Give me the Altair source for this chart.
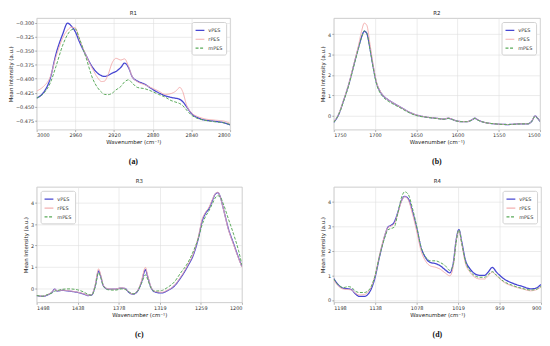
import altair as alt
import pandas as pd

SERIES = ["vPES", "rPES", "mPES"]
COLORS = ["#4646d2", "#f3b0b0", "#5aaa5a"]
DASHES = [[1, 0], [1, 0], [3, 1.6]]
WIDTHS = [1.3, 1.0, 1.0]

# ---------------- R1 ----------------
r1_wn = [3000, 2993, 2986, 2980, 2973, 2968, 2964, 2960, 2956, 2949, 2942, 2937, 2933,
         2930, 2926, 2922, 2918, 2913, 2909, 2905, 2901, 2896, 2888, 2881, 2874, 2867,
         2861, 2856, 2852, 2849, 2845, 2840, 2833, 2827, 2816, 2806, 2800]
r1_v = [-0.4345, -0.425, -0.400, -0.356, -0.320, -0.3005, -0.306, -0.316, -0.333, -0.358,
        -0.380, -0.390, -0.3945, -0.396, -0.394, -0.390, -0.387, -0.380, -0.372, -0.380,
        -0.397, -0.404, -0.410, -0.418, -0.425, -0.4305, -0.4335, -0.435, -0.437, -0.441,
        -0.450, -0.462, -0.470, -0.4735, -0.476, -0.479, -0.4825]
r1_r = [-0.422, -0.414, -0.397, -0.361, -0.327, -0.313, -0.308, -0.309, -0.328, -0.358,
        -0.383, -0.398, -0.405, -0.4045, -0.392, -0.372, -0.3635, -0.3665, -0.3645, -0.378,
        -0.397, -0.405, -0.411, -0.4165, -0.422, -0.428, -0.4265, -0.422, -0.4155, -0.423,
        -0.447, -0.461, -0.468, -0.4715, -0.474, -0.476, -0.480]
r1_m = [-0.4345, -0.4265, -0.408, -0.378, -0.340, -0.321, -0.3125, -0.311, -0.327, -0.362,
        -0.400, -0.416, -0.424, -0.428, -0.4285, -0.426, -0.420, -0.414, -0.4055, -0.402,
        -0.408, -0.4155, -0.418, -0.4225, -0.428, -0.433, -0.439, -0.442, -0.4445, -0.448,
        -0.456, -0.465, -0.4715, -0.474, -0.477, -0.479, -0.482]
r1_xticks = [3000, 2960, 2920, 2880, 2840, 2800]
r1_yticks = [-0.475, -0.45, -0.425, -0.4, -0.375, -0.35, -0.325, -0.3]

# ---------------- R2 ----------------
r2_wn = [1750, 1744, 1738, 1732, 1726, 1720, 1716, 1713, 1710, 1706, 1702, 1698, 1694,
         1690, 1684, 1678, 1668, 1658, 1648, 1638, 1626, 1616, 1611, 1606, 1602, 1594,
         1589, 1583, 1579, 1575, 1567, 1555, 1539, 1523, 1515, 1510, 1506, 1503, 1500]
r2_v = [-0.34, 0.05, 0.74, 1.5, 2.43, 3.35, 3.9, 4.15, 4.05, 3.28, 2.35, 1.58, 1.2,
        0.97, 0.77, 0.615, 0.385, 0.15, 0.0, -0.08, -0.14, -0.185, -0.14, -0.2, -0.26, -0.31,
        -0.31, -0.23, -0.14, -0.23, -0.35, -0.415, -0.45, -0.415, -0.415, -0.29, -0.03, -0.14, -0.29]
r2_r = [-0.32, 0.07, 0.76, 1.52, 2.47, 3.45, 4.2, 4.55, 4.45, 3.5, 2.45, 1.62, 1.22,
        0.98, 0.77, 0.615, 0.385, 0.15, 0.0, -0.08, -0.14, -0.185, -0.13, -0.2, -0.26, -0.31,
        -0.31, -0.23, -0.14, -0.23, -0.35, -0.415, -0.45, -0.415, -0.415, -0.29, -0.03, -0.14, -0.29]
r2_m = [-0.34, 0.04, 0.7, 1.45, 2.38, 3.3, 3.88, 4.17, 4.05, 3.25, 2.3, 1.52, 1.12,
        0.9, 0.7, 0.56, 0.34, 0.12, -0.03, -0.09, -0.15, -0.19, -0.15, -0.21, -0.27, -0.31,
        -0.31, -0.24, -0.15, -0.24, -0.35, -0.415, -0.45, -0.42, -0.415, -0.3, -0.05, -0.15, -0.3]
r2_xticks = [1750, 1700, 1650, 1600, 1550, 1500]
r2_yticks = [0, 1, 2, 3, 4]

# ---------------- R3 ----------------
r3_wn = [1498, 1489, 1482, 1475, 1472, 1468, 1461, 1451, 1439, 1430, 1423, 1418, 1413,
         1408, 1405, 1401, 1394, 1384, 1375, 1370, 1363, 1358, 1351, 1346, 1340, 1337,
         1332, 1327, 1317, 1308, 1298, 1289, 1279, 1270, 1263, 1258, 1253, 1248, 1243,
         1239, 1235, 1232, 1227, 1220, 1212, 1205, 1200]
r3_v = [-0.35, -0.39, -0.32, -0.17, -0.05, -0.14, -0.11, -0.14, -0.2, -0.27, -0.35, -0.32, 0.1,
        0.8, 0.56, 0.1, -0.05, -0.05, 0.0, -0.02, -0.23, -0.29, -0.12, 0.26, 0.86, 0.56,
        0.03, -0.17, -0.23, -0.12, 0.1, 0.48, 1.01, 1.6, 2.37, 3.12, 3.5, 3.73, 4.1,
        4.4, 4.48, 4.33, 3.73, 2.82, 2.07, 1.43, 1.01]
r3_r = [-0.35, -0.38, -0.31, -0.16, -0.06, -0.13, -0.1, -0.13, -0.19, -0.26, -0.34, -0.31, 0.15,
        0.9, 0.62, 0.12, -0.04, -0.05, 0.01, -0.02, -0.22, -0.28, -0.1, 0.32, 0.97, 0.62,
        0.05, -0.15, -0.2, -0.1, 0.13, 0.52, 1.06, 1.66, 2.45, 3.2, 3.55, 3.78, 4.15,
        4.42, 4.5, 4.33, 3.72, 2.78, 2.02, 1.4, 0.98]
r3_m = [-0.35, -0.38, -0.3, -0.22, -0.15, -0.12, -0.06, -0.04, -0.08, -0.18, -0.3, -0.33, 0.05,
        0.72, 0.5, 0.08, -0.08, -0.1, -0.04, -0.06, -0.2, -0.27, -0.12, 0.2, 0.62, 0.42,
        0.0, -0.14, -0.12, 0.03, 0.29, 0.71, 1.16, 1.77, 2.37, 2.95, 3.35, 3.62, 3.95,
        4.22, 4.33, 4.3, 3.95, 3.28, 2.52, 1.77, 1.09]
r3_xticks = [1498, 1438.4, 1378.8, 1319.2, 1259.6, 1200]
r3_yticks = [0, 1, 2, 3, 4]

# ---------------- R4 ----------------
r4_wn = [1198, 1191, 1184, 1177, 1172, 1168, 1161, 1154, 1146, 1139, 1132, 1125, 1120,
         1116, 1111, 1106, 1101, 1096, 1091, 1085, 1078, 1073, 1066, 1059, 1052, 1045,
         1038, 1031, 1026, 1022, 1018, 1014, 1009, 1002, 995, 988, 981, 976, 970, 964,
         954, 940, 926, 915, 908, 900]
r4_v = [0.87, 0.6, 0.47, 0.45, 0.41, 0.28, 0.14, 0.14, 0.34, 0.87, 1.78, 2.57, 2.96,
        3.03, 3.16, 3.55, 4.01, 4.21, 4.12, 3.62, 2.83, 2.18, 1.72, 1.52, 1.48, 1.39,
        1.23, 1.1, 1.52, 2.44, 2.86, 2.37, 1.65, 1.26, 1.06, 1.0, 1.0, 1.13, 1.32, 1.13,
        0.87, 0.67, 0.54, 0.45, 0.47, 0.63]
r4_r = [0.8, 0.55, 0.44, 0.42, 0.4, 0.3, 0.2, 0.22, 0.42, 0.95, 1.85, 2.6, 2.95,
        3.0, 3.1, 3.5, 3.98, 4.2, 4.08, 3.52, 2.7, 2.05, 1.58, 1.38, 1.33, 1.25,
        1.1, 0.98, 1.4, 2.38, 2.82, 2.28, 1.52, 1.12, 0.92, 0.85, 0.85, 0.97, 1.13, 0.98,
        0.73, 0.55, 0.44, 0.37, 0.4, 0.52]
r4_m = [0.85, 0.6, 0.5, 0.54, 0.5, 0.38, 0.3, 0.3, 0.45, 0.95, 1.8, 2.5, 2.85,
        2.9, 2.96, 3.5, 4.12, 4.4, 4.3, 3.75, 2.9, 2.2, 1.75, 1.59, 1.59, 1.52,
        1.4, 1.2, 1.45, 2.35, 2.85, 2.3, 1.6, 1.17, 0.98, 0.92, 0.92, 1.03, 1.15, 1.0,
        0.76, 0.58, 0.46, 0.4, 0.42, 0.55]
r4_xticks = [1198, 1138.4, 1078.8, 1019.2, 959.6, 900]
r4_yticks = [0, 1, 2, 3, 4]

XTITLE = "Wavenumber (cm⁻¹)"
YTITLE = "Mean Intensity (a.u.)"


def panel(wn, vals, title, caption, xdom, xticks, ydom, yticks, yfmt, w, h,
          legend_orient, floor_labels=False):
    if floor_labels:
        xaxis = alt.Axis(values=xticks, title=XTITLE,
                         labelExpr="format(floor(datum.value), 'd')")
    else:
        xaxis = alt.Axis(values=xticks, title=XTITLE, format="d")
    layers = []
    for s, ys, c, wd in zip(SERIES, vals, COLORS, WIDTHS):
        df = pd.DataFrame({"wavenumber": wn, "intensity": ys, "series": s})
        layers.append(
            alt.Chart(df).mark_line(interpolate="monotone", strokeWidth=wd, clip=True).encode(
                x=alt.X("wavenumber:Q",
                        scale=alt.Scale(domain=xdom, reverse=True, nice=False, zero=False),
                        axis=xaxis),
                y=alt.Y("intensity:Q",
                        scale=alt.Scale(domain=ydom, nice=False, zero=False),
                        axis=alt.Axis(values=yticks, format=yfmt, title=YTITLE)),
                color=alt.Color("series:N", scale=alt.Scale(domain=SERIES, range=COLORS),
                                legend=alt.Legend(title=None, orient=legend_orient)),
                strokeDash=alt.StrokeDash("series:N", scale=alt.Scale(domain=SERIES, range=DASHES),
                                          legend=alt.Legend(title=None, orient=legend_orient)),
            )
        )
    cap = alt.Chart(pd.DataFrame({"c": [caption]})).mark_text(
        font="Liberation Serif", fontWeight="bold", fontSize=8, color="#111"
    ).encode(text="c:N", x=alt.value(w / 2), y=alt.value(h + 33))
    return alt.layer(*layers, cap).properties(
        width=w, height=h, title=alt.TitleParams(title)
    )


p1 = panel(r1_wn, [r1_v, r1_r, r1_m], "R1", "(a)", [2800, 3000], r1_xticks,
           [-0.491, -0.2915], r1_yticks, ".3f", 196, 113, "top-right")
p2 = panel(r2_wn, [r2_v, r2_r, r2_m], "R2", "(b)", [1500, 1750], r2_xticks,
           [-0.7, 4.8], r2_yticks, "d", 209, 113, "top-right")
p3 = panel(r3_wn, [r3_v, r3_r, r3_m], "R3", "(c)", [1200, 1498], r3_xticks,
           [-0.67, 4.75], r3_yticks, "d", 208, 117, "top-left", floor_labels=True)
p4 = panel(r4_wn, [r4_v, r4_r, r4_m], "R4", "(d)", [900, 1198], r4_xticks,
           [-0.1, 4.6], r4_yticks, "d", 210, 117, "top-right", floor_labels=True)

chart = alt.concat(p1, p2, p3, p4, columns=2, spacing={"row": 12, "column": 78}).resolve_scale(
    color="independent", strokeDash="independent", x="independent", y="independent"
).resolve_legend(
    color="independent", strokeDash="independent"
).properties(
    padding=0, background="white"
).configure_axis(
    labelFont="DejaVu Sans", labelFontSize=5, labelColor="#333",
    titleFont="DejaVu Sans", titleFontSize=5.5, titleFontWeight="normal", titleColor="#222",
    tickSize=2, tickWidth=0.5, tickColor="#666", labelPadding=1, titlePadding=2,
    gridColor="#dedede", gridWidth=0.6, domain=False
).configure_view(
    stroke="#c0c0c0", strokeWidth=0.8
).configure_legend(
    labelFont="DejaVu Sans", labelFontSize=5, labelColor="#333",
    symbolType="stroke", symbolSize=80, symbolStrokeWidth=1.2,
    fillColor="white", strokeColor="#d0d0d0", padding=3, cornerRadius=2,
    offset=4, rowPadding=0, labelOffset=3
).configure_title(
    font="DejaVu Sans", fontSize=5.5, fontWeight="normal", color="#222", offset=2
)

chart.save("out.html", embed_options={"renderer": "svg", "actions": False})
